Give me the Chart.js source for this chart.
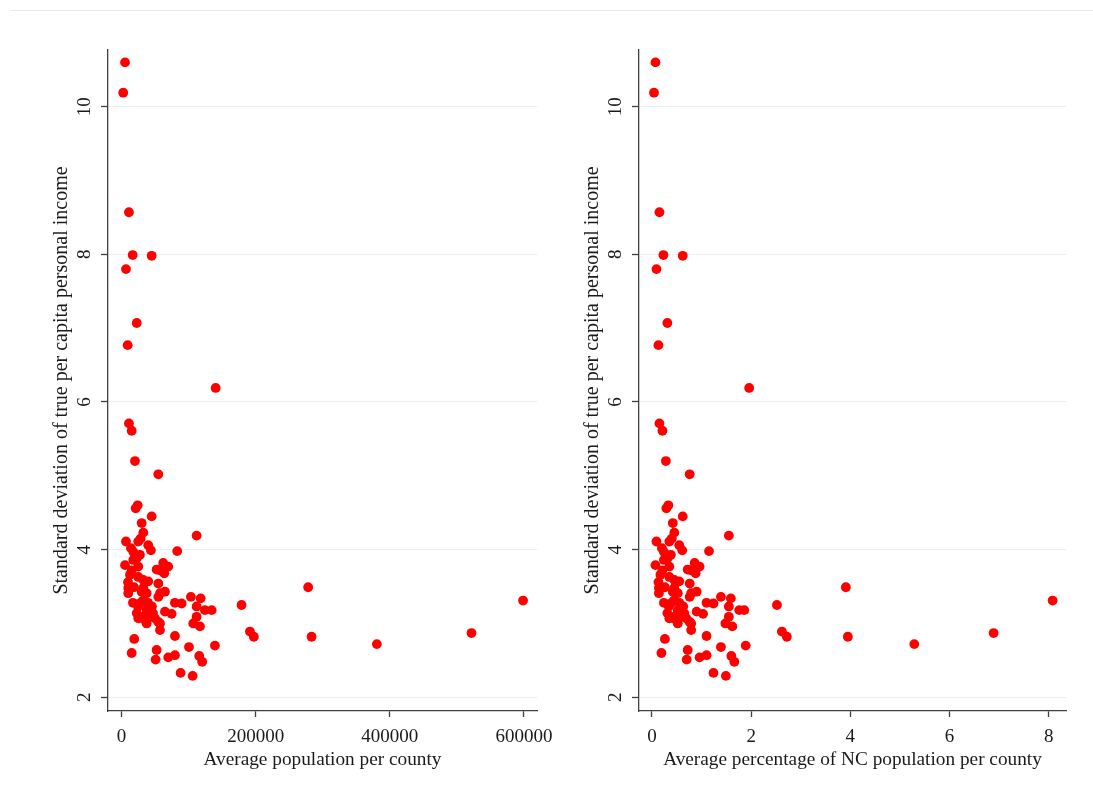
<!DOCTYPE html>
<html>
<head>
<meta charset="utf-8">
<script src="https://cdn.jsdelivr.net/npm/chart.js@4/dist/chart.umd.min.js"></script>
<style>
  html, body { margin: 0; padding: 0; background: #fff; }
  body { width: 1093px; height: 803px; position: relative; overflow: hidden; }
  .topline { position: absolute; left: 10px; right: 0; top: 10px; height: 1px; background: #e4eded; }
  .panel { position: absolute; top: 0; width: 562px; height: 803px; }
  #left { left: 0; }
  #right { left: 531px; }
</style>
</head>
<body>
<div class="topline"></div>
<div class="panel" id="left"><canvas id="c1" width="562" height="803"></canvas></div>
<div class="panel" id="right"><canvas id="c2" width="562" height="803"></canvas></div>
<script>
// one entry per county, same order in every array
var popAvg = [5300, 2600, 11100, 16700, 45000, 6700, 22700, 9200, 140400, 11100,
  15200, 20100, 54900, 24100, 21200, 45000, 30100, 32500, 112000, 28600,
  6700, 25000, 39900, 43900, 83100, 17600, 27500, 17600, 5300, 25000,
  15200, 62200, 69700, 57400, 63800, 52400, 12700, 25000, 32500, 39900,
  54900, 10100, 32500, 10100, 35000, 57400, 64800, 30100, 37500, 54900,
  103500, 118000, 27500, 79700, 89700, 179000, 112000, 124400, 134400, 22700,
  37500, 64800, 74800, 42500, 49900, 54900, 57400, 30100, 37500, 112000,
  107000, 117000, 57400, 191500, 197300, 79700, 19000, 139300, 100600, 52400,
  15200, 79700, 69700, 50900, 115900, 120300, 88100, 106100, 278300, 283400,
  380700, 521800, 598700, 32000, 39500, 45400, 24600, 17100, 47000, 33500,
  14200, 23100, 9700, 18600, 25000];

var pctAvg = [0.07, 0.04, 0.15, 0.23, 0.62, 0.09, 0.31, 0.13, 1.96, 0.15,
  0.21, 0.28, 0.76, 0.33, 0.29, 0.62, 0.42, 0.45, 1.55, 0.40,
  0.09, 0.35, 0.55, 0.61, 1.15, 0.24, 0.38, 0.24, 0.07, 0.35,
  0.21, 0.86, 0.96, 0.79, 0.88, 0.72, 0.17, 0.35, 0.45, 0.55,
  0.76, 0.14, 0.45, 0.14, 0.48, 0.79, 0.90, 0.42, 0.52, 0.76,
  1.39, 1.59, 0.38, 1.10, 1.24, 2.52, 1.55, 1.76, 1.86, 0.31,
  0.52, 0.90, 1.03, 0.59, 0.69, 0.76, 0.79, 0.42, 0.52, 1.55,
  1.48, 1.62, 0.79, 2.62, 2.72, 1.10, 0.26, 1.89, 1.39, 0.72,
  0.19, 1.10, 0.96, 0.70, 1.60, 1.66, 1.24, 1.49, 3.91, 3.95,
  5.29, 6.89, 8.08, 0.44, 0.55, 0.63, 0.34, 0.24, 0.65, 0.46,
  0.20, 0.32, 0.13, 0.26, 0.35];

var incomeSd = [10.60, 10.19, 8.57, 7.99, 7.98, 7.80, 7.07, 6.77, 6.19, 5.71,
  5.61, 5.20, 5.02, 4.60, 4.56, 4.45, 4.36, 4.23, 4.19, 4.15,
  4.11, 4.11, 4.06, 3.99, 3.98, 3.97, 3.93, 3.86, 3.79, 3.77,
  3.72, 3.82, 3.77, 3.72, 3.68, 3.73, 3.66, 3.63, 3.59, 3.57,
  3.54, 3.48, 3.48, 3.41, 3.41, 3.41, 3.43, 3.43, 3.41, 3.36,
  3.36, 3.34, 3.27, 3.28, 3.27, 3.25, 3.23, 3.18, 3.18, 3.14,
  3.18, 3.16, 3.13, 3.09, 3.07, 3.02, 3.00, 3.09, 3.00, 3.09,
  3.00, 2.96, 2.91, 2.89, 2.82, 2.83, 2.79, 2.70, 2.68, 2.64,
  2.60, 2.57, 2.54, 2.51, 2.56, 2.48, 2.33, 2.29, 3.49, 2.82,
  2.72, 2.87, 3.31, 3.31, 3.28, 3.23, 3.23, 3.28, 3.14, 3.06,
  4.02, 3.89, 3.56, 3.49, 3.07];

var popTicks = [0, 200000, 400000, 600000];
var pctTicks = [0, 2, 4, 6, 8];
var sdTicks = [2, 4, 6, 8, 10];

var serif = '"Liberation Serif", "Times New Roman", serif';
var textColor = '#1a1a1a';
var axisColor = '#404040';

// y tick labels in the reference are turned on their side
var sideways = {
  id: 'sideways',
  afterDraw: function (chart) {
    var ctx = chart.ctx, ys = chart.scales.y;
    ctx.save();
    ctx.font = '19px ' + serif;
    ctx.fillStyle = textColor;
    ctx.textAlign = 'center';
    ctx.textBaseline = 'alphabetic';
    ys.ticks.forEach(function (t) {
      ctx.save();
      ctx.translate(ys.right - 18, ys.getPixelForValue(t.value));
      ctx.rotate(-Math.PI / 2);
      ctx.fillText(String(t.value), 0, 0);
      ctx.restore();
    });
    ctx.restore();
  }
};

function panel(id, xs, xTicks, xMin, xMax, xTitle, rightPad) {
  var pts = xs.map(function (x, i) { return { x: x, y: incomeSd[i] }; });
  return new Chart(document.getElementById(id), {
    type: 'scatter',
    data: {
      datasets: [{
        data: pts,
        backgroundColor: '#ff0000',
        borderWidth: 0,
        pointRadius: 4.9,
        pointHoverRadius: 4.9
      }]
    },
    options: {
      responsive: false,
      animation: false,
      devicePixelRatio: 1,
      layout: { padding: { left: 0, top: 50, right: rightPad, bottom: 0 } },
      plugins: { legend: { display: false }, tooltip: { enabled: false } },
      scales: {
        x: {
          type: 'linear',
          min: xMin,
          max: xMax,
          afterBuildTicks: function (s) { s.ticks = xTicks.map(function (v) { return { value: v }; }); },
          afterFit: function (s) { s.height = 92; s.paddingLeft = 0; s.paddingRight = 0; },
          grid: { drawOnChartArea: false, tickLength: 6, tickColor: axisColor, tickWidth: 1.3 },
          border: { color: axisColor, width: 1.3 },
          ticks: {
            font: { family: serif, size: 19 },
            color: textColor,
            padding: 9,
            maxRotation: 0,
            autoSkip: false,
            callback: function (v) { return String(v); }
          },
          title: {
            display: true,
            text: xTitle,
            font: { family: serif, size: 19.3 },
            color: textColor,
            padding: { top: 0, bottom: 31 }
          }
        },
        y: {
          min: 1.814,
          max: 10.768,
          afterBuildTicks: function (s) { s.ticks = sdTicks.map(function (v) { return { value: v }; }); },
          afterFit: function (s) { s.width = 108; s.paddingTop = 0; s.paddingBottom = 0; },
          grid: { color: '#eaf0f1', lineWidth: 1, tickLength: 7, tickColor: axisColor, tickWidth: 1.3 },
          border: { color: axisColor, width: 1.3 },
          ticks: { display: false },
          title: {
            display: true,
            text: 'Standard deviation of true per capita personal income',
            font: { family: serif, size: 20 },
            color: textColor,
            padding: { top: 50, bottom: 0 }
          }
        }
      }
    },
    plugins: [sideways]
  });
}

panel('c1', popAvg, popTicks, -20100, 619500, 'Average population per county', 25);
panel('c2', pctAvg, pctTicks, -0.262, 8.35, 'Average percentage of NC population per county', 27);
</script>
</body>
</html>
